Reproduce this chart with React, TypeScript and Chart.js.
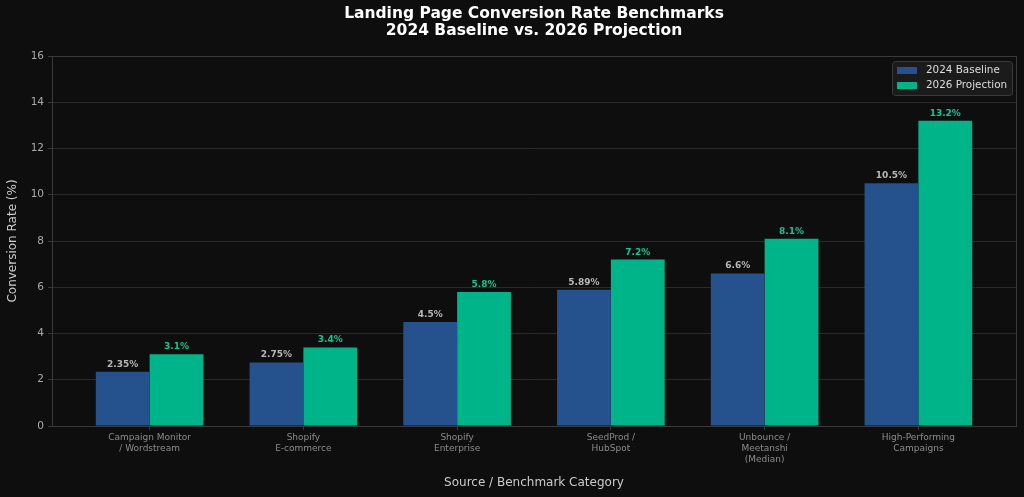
import React, { useEffect, useRef } from "react";
import { Chart, registerables } from "chart.js";

Chart.register(...registerables);

const categories: string[][] = [
  ["Campaign Monitor", "/ Wordstream"],
  ["Shopify", "E-commerce"],
  ["Shopify", "Enterprise"],
  ["SeedProd /", "HubSpot"],
  ["Unbounce /", "Meetanshi", "(Median)"],
  ["High-Performing", "Campaigns"],
];
const baseline2024: number[] = [2.35, 2.75, 4.5, 5.89, 6.6, 10.5];
const projection2026: number[] = [3.1, 3.4, 5.8, 7.2, 8.1, 13.2];
const seriesNames: string[] = ["2024 Baseline", "2026 Projection"];
const yTicks: number[] = [0, 2, 4, 6, 8, 10, 12, 14, 16];
const titleLines: string[] = ["Landing Page Conversion Rate Benchmarks", "2024 Baseline vs. 2026 Projection"];
const xTitle = "Source / Benchmark Category";
const yTitle = "Conversion Rate (%)";

const W = 1024;
const H = 497;
const BG = "#0e0e0e";
const BLUE = "#25518c";
const GREEN = "#00b489";
const GREEN_TXT = "#12c595";
const GRID = "#2a2a2a";
const SPINE = "#3a3a3a";
const FONT = "'DejaVu Sans', sans-serif";

const deco = {
  id: "deco",
  afterDraw(chart: any) {
    const ctx = chart.ctx as CanvasRenderingContext2D;
    const ca = chart.chartArea;
    ctx.save();
    // spines
    ctx.strokeStyle = SPINE;
    ctx.lineWidth = 1;
    ctx.strokeRect(Math.round(ca.left) + 0.5, Math.round(ca.top) + 0.5, Math.round(ca.right - ca.left), Math.round(ca.bottom - ca.top));

    const cx = (ca.left + ca.right) / 2;
    // title
    ctx.fillStyle = "#ffffff";
    ctx.font = `bold 15.5px ${FONT}`;
    ctx.textAlign = "center";
    ctx.textBaseline = "middle";
    ctx.fillText(titleLines[0], cx, 14);
    ctx.fillText(titleLines[1], cx, 31);

    // axis titles
    ctx.fillStyle = "#cccccc";
    ctx.font = `12px ${FONT}`;
    ctx.fillText(xTitle, cx, 483);
    ctx.save();
    ctx.translate(13, (ca.top + ca.bottom) / 2);
    ctx.rotate(-Math.PI / 2);
    ctx.fillText(yTitle, 0, 0);
    ctx.restore();

    // value labels
    ctx.font = `bold 9px ${FONT}`;
    ctx.textBaseline = "alphabetic";
    chart.data.datasets.forEach((ds: any, di: number) => {
      const meta = chart.getDatasetMeta(di);
      ctx.fillStyle = di === 0 ? "#b8b8b8" : GREEN_TXT;
      meta.data.forEach((el: any, i: number) => {
        const v = ds.data[i].y;
        ctx.fillText(`${v}%`, el.x, el.y - 5);
      });
    });

    // legend
    const bx = 892, by = 61, bw = 120, bh = 34;
    ctx.fillStyle = "#1b1b1b";
    ctx.strokeStyle = "#3a3a3a";
    ctx.beginPath();
    (ctx as any).roundRect(bx + 0.5, by + 0.5, bw, bh, 3);
    ctx.fill();
    ctx.stroke();
    const colors = [BLUE, GREEN];
    ctx.font = `10.4px ${FONT}`;
    ctx.textAlign = "left";
    ctx.textBaseline = "middle";
    seriesNames.forEach((name, i) => {
      const y = 70.5 + i * 15;
      ctx.fillStyle = colors[i];
      ctx.fillRect(897, y - 3.5, 20, 7);
      ctx.fillStyle = "#dddddd";
      ctx.fillText(name, 926, y);
    });
    ctx.restore();
  },
};

export default function App() {
  const ref = useRef<HTMLCanvasElement>(null);
  useEffect(() => {
    const chart = new Chart(ref.current as HTMLCanvasElement, {
      type: "bar",
      data: {
        datasets: [
          {
            label: seriesNames[0],
            data: baseline2024.map((v, i) => ({ x: i, y: v })),
            backgroundColor: BLUE,
            categoryPercentage: 0.7,
            barPercentage: 1.0,
          },
          {
            label: seriesNames[1],
            data: projection2026.map((v, i) => ({ x: i, y: v })),
            backgroundColor: GREEN,
            categoryPercentage: 0.7,
            barPercentage: 1.0,
          },
        ],
      } as any,
      options: {
        responsive: false,
        animation: false,
        devicePixelRatio: 1,
        layout: { padding: { top: 56, right: 8, left: 0, bottom: 0 } },
        plugins: {
          legend: { display: false },
          title: { display: false },
          tooltip: { enabled: false },
        },
        scales: {
          x: {
            type: "linear",
            min: -0.635,
            max: 5.635,
            offset: false,
            afterBuildTicks: (s: any) => {
              s.ticks = categories.map((_, i) => ({ value: i }));
            },
            afterFit: (s: any) => {
              s.height = 71;
            },
            ticks: {
              callback: (v: any) => categories[v] ?? "",
              color: "#8c8c8c",
              font: { family: FONT, size: 9, lineHeight: 1.22 },
              padding: 2,
              maxRotation: 0,
              minRotation: 0,
              autoSkip: false,
            },
            grid: { offset: false, drawOnChartArea: false, drawTicks: true, tickLength: 4, tickColor: SPINE },
            border: { color: SPINE },
          },
          y: {
            type: "linear",
            min: 0,
            max: 16,
            afterBuildTicks: (s: any) => {
              s.ticks = yTicks.map((v) => ({ value: v }));
            },
            afterFit: (s: any) => {
              s.width = 52;
            },
            ticks: {
              color: "#aaaaaa",
              font: { family: FONT, size: 10.5 },
              padding: 4,
            },
            grid: { color: GRID, tickLength: 4, tickColor: SPINE },
            border: { color: SPINE },
          },
        },
      } as any,
      plugins: [deco],
    });
    return () => chart.destroy();
  }, []);

  return (
    <div style={{ position: "fixed", left: 0, top: 0, width: W, height: H, background: BG }}>
      <canvas ref={ref} width={W} height={H} style={{ display: "block", width: W, height: H }} />
    </div>
  );
}
